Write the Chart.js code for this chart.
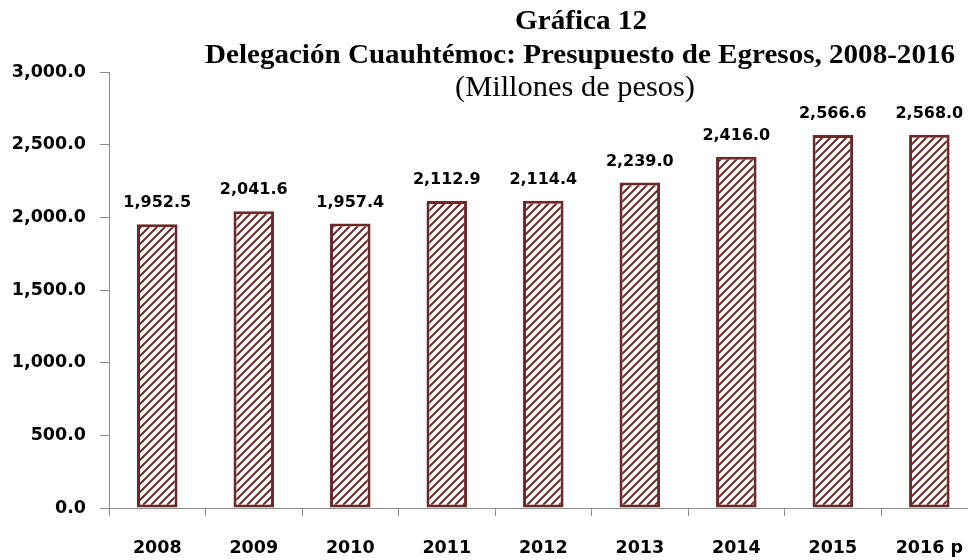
<!DOCTYPE html>
<html>
<head>
<meta charset="utf-8">
<script src="https://cdn.jsdelivr.net/npm/chart.js@4"></script>
<style>
  html, body { margin: 0; padding: 0; background: #fff; overflow: hidden; }
  /* the original plot runs a little past the right edge, so the canvas is wider than the frame */
  #wrap { width: 968px; height: 560px; position: relative; overflow: hidden; }
</style>
</head>
<body>
<div id="wrap"><canvas id="chart" width="985" height="560"></canvas></div>
<script>
// Data
const years = ['2008', '2009', '2010', '2011', '2012', '2013', '2014', '2015', '2016 p'];
const budget = [1952.5, 2041.6, 1957.4, 2112.9, 2114.4, 2239.0, 2416.0, 2566.6, 2568.0];
const titleLines = ['Gráfica 12', 'Delegación Cuauhtémoc: Presupuesto de Egresos, 2008-2016', '(Millones de pesos)'];

const barColor = '#6b2a2a';

// diagonal hatch, like the Excel pattern fill
function makeHatch() {
    const size = 8;
    const c = document.createElement('canvas');
    c.width = size; c.height = size;
    const g = c.getContext('2d');
    g.fillStyle = '#fff';
    g.fillRect(0, 0, size, size);
    g.strokeStyle = barColor;
    g.lineWidth = 2;
    g.beginPath();
    g.moveTo(0, size); g.lineTo(size, 0);
    g.moveTo(-size / 2, size / 2); g.lineTo(size / 2, -size / 2);
    g.moveTo(size / 2, size * 1.5); g.lineTo(size * 1.5, size / 2);
    g.stroke();
    return g.createPattern(c, 'repeat');
}

const fmt = v => v.toLocaleString('en-US', { minimumFractionDigits: 1, maximumFractionDigits: 1 });

// the original title is a condensed serif, so fit each line to its width
function fitText(ctx, text, cx, cy, width) {
    const w = ctx.measureText(text).width;
    ctx.save();
    ctx.translate(cx, cy);
    ctx.scale(width / w, 1);
    ctx.fillText(text, 0, 0);
    ctx.restore();
}

// title drawn over the plot, same as the original
const titlePlugin = {
    id: 'titleOver',
    afterDraw(chart) {
        const ctx = chart.ctx;
        ctx.save();
        ctx.fillStyle = '#000';
        ctx.textAlign = 'center';
        ctx.textBaseline = 'middle';
        ctx.font = 'bold 28px "Liberation Serif", serif';
        fitText(ctx, titleLines[0], 581, 22, 132);
        fitText(ctx, titleLines[1], 580, 56, 750);
        ctx.font = '29px "Liberation Serif", serif';
        fitText(ctx, titleLines[2], 575, 88, 240);
        ctx.restore();
    }
};

// value labels above the bars
const valuePlugin = {
    id: 'values',
    afterDatasetsDraw(chart) {
        const ctx = chart.ctx;
        const meta = chart.getDatasetMeta(0);
        ctx.save();
        ctx.fillStyle = '#000';
        ctx.textAlign = 'center';
        ctx.textBaseline = 'bottom';
        ctx.font = 'bold 16px "DejaVu Sans", sans-serif';
        meta.data.forEach((bar, i) => {
            ctx.fillText(fmt(budget[i]), bar.x, bar.y - 13);
        });
        ctx.restore();
    }
};

new Chart(document.getElementById('chart'), {
    type: 'bar',
    data: {
        labels: years,
        datasets: [{
            data: budget,
            backgroundColor: makeHatch(),
            borderColor: barColor,
            borderWidth: 3,
            borderSkipped: false,
            categoryPercentage: 1,
            barPercentage: 0.42
        }]
    },
    options: {
        responsive: false,
        animation: false,
        layout: { padding: { top: 72, right: 0, left: 0, bottom: 0 } },
        plugins: {
            legend: { display: false },
            title: { display: false },
            tooltip: { enabled: false }
        },
        scales: {
            y: {
                min: 0,
                max: 3000,
                afterFit(scale) { scale.width = 109; },
                ticks: {
                    stepSize: 500,
                    padding: 14,
                    color: '#000',
                    font: { family: '"DejaVu Sans", sans-serif', size: 17.5, weight: 'bold' },
                    callback: v => fmt(v)
                },
                grid: { drawOnChartArea: false, drawTicks: true, tickLength: 9, color: '#8c8c8c' },
                border: { color: '#8c8c8c', width: 1 }
            },
            x: {
                afterFit(scale) { scale.height = 52; },
                ticks: {
                    padding: 22,
                    color: '#000',
                    maxRotation: 0,
                    font: { family: '"DejaVu Sans", sans-serif', size: 17.5, weight: 'bold' }
                },
                grid: { offset: true, drawOnChartArea: false, drawTicks: true, tickLength: 8, color: '#8c8c8c' },
                border: { color: '#8c8c8c', width: 1 }
            }
        }
    },
    plugins: [titlePlugin, valuePlugin]
});
</script>
</body>
</html>
